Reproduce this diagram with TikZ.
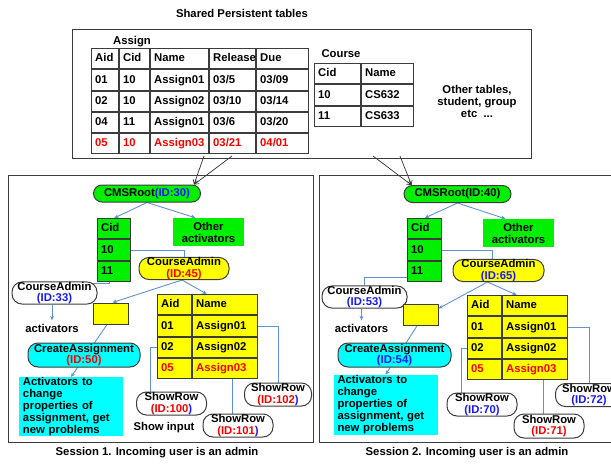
\documentclass[tikz,border=0pt]{standalone}
\usepackage{fontspec}
\setmainfont{Liberation Sans}
\usetikzlibrary{matrix,arrows.meta,backgrounds}

\definecolor{rootgreen}{RGB}{0,240,0}
\definecolor{adminyellow}{RGB}{255,255,0}
\definecolor{actcyan}{RGB}{0,255,255}
\definecolor{linkblue}{RGB}{96,145,215}
\definecolor{idblue}{RGB}{25,25,245}
\definecolor{idred}{RGB}{250,0,0}
\definecolor{edgegray}{RGB}{60,60,60}

\newcommand{\idb}[1]{\textcolor{idblue}{#1}}
\newcommand{\idr}[1]{\textcolor{idred}{#1}}

\begin{document}
\begin{tikzpicture}[x=1pt,y=-1pt,font=\bfseries\fontsize{11.3}{12}\selectfont,
    frame/.style={draw=edgegray,line width=1pt},
    cell/.style={draw=edgegray,line width=1pt,outer sep=0pt,inner xsep=3.5pt,inner ysep=0pt,
        minimum height=20.2pt,text height=8.5pt,text depth=2.5pt,align=left},
    table/.style={matrix of nodes,inner sep=0pt,anchor=north west,nodes={cell}},
    pill/.style={draw=edgegray,line width=1pt,rounded corners=10pt,align=center,inner sep=0pt,
        font=\bfseries\fontsize{11.3}{11.5}\selectfont},
    root node/.style={pill,fill=rootgreen,minimum width=107pt,minimum height=17pt,rounded corners=8.5pt},
    admin node/.style={pill,minimum width=90pt,minimum height=21pt},
    create node/.style={pill,fill=actcyan,minimum width=112pt,minimum height=24pt},
    showrow/.style={pill,fill=white,minimum width=70pt,minimum height=23pt},
    green box/.style={fill=rootgreen,minimum width=71pt,minimum height=28pt,align=center,inner sep=0pt},
    cyan box/.style={fill=actcyan,minimum width=104pt,minimum height=57pt,text width=96pt,align=left,
        inner xsep=4pt,inner ysep=0pt},
    spot/.style={draw=edgegray,line width=1pt,fill=adminyellow,minimum width=35pt,minimum height=21pt,inner sep=0pt},
    link/.style={draw=linkblue,line width=0.9pt},
    linkarrow/.style={link,-{Stealth[length=4.5pt,width=4pt]}},
    feed/.style={draw=black!80,line width=0.7pt,-{Straight Barb[length=4pt,width=5pt]}}]
    \clip (0,0) rectangle (611,466);

    % shared tables
    \node (shtitle) at (242,13) {Shared Persistent tables};
    \draw[frame] (72,29) rectangle (531,158);
    \node (assignlbl) at (132,42) {Assign};
    \matrix[table,row 5/.style={nodes={text=idred}},
        column 1/.style={nodes={text width=20pt}},column 2/.style={nodes={text width=23pt}},
        column 3/.style={nodes={text width=51pt}},column 4/.style={nodes={text width=39pt}},
        column 5/.style={nodes={text width=45pt}}] (assign) at (91,48) {
        Aid & Cid & Name & Release & Due \\
        01 & 10 & Assign01 & 03/5 & 03/09 \\
        02 & 10 & Assign02 & 03/10 & 03/14 \\
        04 & 11 & Assign01 & 03/6 & 03/20 \\
        05 & 10 & Assign03 & 03/21 & 04/01 \\
    };
    \node (courselbl) at (341,54) {Course};
    \matrix[table,column 1/.style={nodes={text width=39pt}},column 2/.style={nodes={text width=45pt}}]
        (course) at (314,63) {
        Cid & Name \\
        10 & CS632 \\
        11 & CS633 \\
    };
    \node[align=center] (othertbl) at (477,101) {Other tables,\\student, group\\etc\ \ ...};
    \coordinate (out1a) at (204,156);
    \coordinate (out1b) at (232,156);
    \coordinate (out2a) at (373,156);
    \coordinate (out2b) at (400,156);

    % session 1
    \draw[frame] (8,175) rectangle (313,442);
    \node (sess1) at (157,453) {Session 1. Incoming user is an admin};
    \node[root node] (root30) at (147,193.5) {CMSRoot\idb{(ID:30)}};
    \matrix[table,nodes={fill=rootgreen},column 1/.style={nodes={text width=26pt}}] (cid1) at (97,218) {
        Cid \\ 10 \\ 11 \\
    };
    \node[green box] (other1) at (208.5,232) {Other\\activators};
    \node[admin node,fill=adminyellow] (admin45) at (184,268.5) {CourseAdmin\\\idr{(ID:45)}};
    \node[admin node,fill=white,minimum width=85pt] (admin33) at (54.5,293) {CourseAdmin\\\idb{(ID:33)}};
    \node[spot] (spot1) at (110.5,313.5) {};
    \matrix[table,nodes={fill=adminyellow},row 4/.style={nodes={text=idred}},
        column 1/.style={nodes={text width=27pt}},column 2/.style={nodes={text width=58pt}}] (aid1) at (157,294) {
        Aid & Name \\
        01 & Assign01 \\
        02 & Assign02 \\
        05 & Assign03 \\
    };
    \node (act1) at (52,328) {activators};
    \node[create node] (create50) at (84,355) {CreateAssignment\\\idr{(ID:50)}};
    \node[cyan box] (cyan1) at (71,406.5) {Activators to\\change\\properties of\\assignment, get\\new problems};
    \node[showrow] (show100) at (171.5,403.5) {ShowRow\\\idr{(ID:100}\idb{)}};
    \node[showrow] (show101) at (238,425.5) {ShowRow\\\idr{(ID:101}\idb{)}};
    \node[showrow,minimum width=67pt] (show102) at (278,394.5) {ShowRow\\\idr{(ID:102}\idb{)}};
    \node (showin) at (164,428) {Show input};

    % session 2
    \draw[frame] (319,175) rectangle (616,442);
    \node (sess2) at (467,453) {Session 2. Incoming user is an admin};
    \node[root node] (root40) at (457.5,194) {CMSRoot(ID:40)};
    \matrix[table,nodes={fill=rootgreen},column 1/.style={nodes={text width=27pt}}] (cid2) at (407,218) {
        Cid \\ 10 \\ 11 \\
    };
    \node[green box] (other2) at (518.5,233) {Other\\activators};
    \node[admin node,fill=adminyellow,minimum width=91pt] (admin65) at (498.5,270.5) {CourseAdmin\\\idb{(ID:65)}};
    \node[admin node,fill=white,minimum width=85pt] (admin53) at (364.5,297) {CourseAdmin\\\idb{(ID:53)}};
    \node[spot] (spot2) at (420.5,314.5) {};
    \matrix[table,nodes={fill=adminyellow},row 4/.style={nodes={text=idred}},
        column 1/.style={nodes={text width=27pt}},column 2/.style={nodes={text width=58pt}}] (aid2) at (467,295) {
        Aid & Name \\
        01 & Assign01 \\
        02 & Assign02 \\
        05 & Assign03 \\
    };
    \node (act2) at (361.5,328) {activators};
    \node[create node,minimum width=113pt] (create54) at (394.5,355) {CreateAssignment\\\idb{(ID:54)}};
    \node[cyan box,minimum width=103pt,minimum height=60pt] (cyan2) at (385.5,405) {Activators to\\change\\properties of\\assignment, get\\new problems};
    \node[showrow] (show70) at (482,404.5) {ShowRow\\\idb{(ID:70)}};
    \node[showrow,minimum height=24pt] (show71) at (549,426) {ShowRow\\\idr{(ID:71)}};
    \node[showrow,minimum width=67pt] (show72) at (589,395) {ShowRow\\\idb{(ID:72)}};

    \begin{scope}[on background layer]
        \draw[feed] (out1a) -- ([xshift=-7pt]root30.north east);
        \draw[feed] (out1b) -- ([xshift=-7pt]root30.north east);
        \draw[feed] (out2a) -- ([xshift=8pt]root40.north west);
        \draw[feed] (out2b) -- ([xshift=8pt]root40.north west);

        \draw[linkarrow] (root30.south) -- (cid1.north);
        \draw[linkarrow] (root30.south) -- ([xshift=-13pt]other1.north);
        \draw[link] (cid1-2-1.east) -| (admin45.north);
        \draw[link] ([xshift=-5pt]cid1-3-1.south) |- ([xshift=-8pt,yshift=-2pt]admin33.north east);
        \draw[linkarrow] ([xshift=-2pt]admin45.south) -- ([xshift=2pt]spot1.north);
        \draw[linkarrow] ([xshift=-2pt]admin45.south) -- ([xshift=-1pt]aid1.north);
        \draw[linkarrow] (admin33.south -| act1.north) -- (act1.north);
        \draw[linkarrow] ([yshift=5pt]spot1.south) -- (cyan1.north);
        \draw[link] (aid1-3-1.west) -- ++(-7,0) coordinate (k100) -- (k100 |- show100.north);
        \draw[link] ([xshift=7.5pt]aid1-4-2.south) coordinate (k101) -- (k101 |- show101.north);
        \draw[link] (aid1-2-2.east) -| (show102.north);

        \draw[linkarrow] (root40.south) -- (cid2.north);
        \draw[linkarrow] (root40.south) -- ([xshift=-13pt]other2.north);
        \draw[link] (cid2-2-1.east) -| ([xshift=-6pt]admin65.north);
        \draw[link] ([yshift=-6pt]cid2-3-1.west) -| (admin53.north);
        \draw[linkarrow] ([xshift=-11pt]admin65.south) -- ([yshift=6pt]spot2.east);
        \draw[linkarrow] ([xshift=-11pt]admin65.south) -- ([xshift=-1pt]aid2.north);
        \draw[linkarrow] (admin53.south -| act2.north) -- (act2.north);
        \draw[linkarrow] ([yshift=5pt]spot2.south) -- (cyan2.north);
        \draw[link] (aid2-3-1.west) -- ++(-6,0) coordinate (k70) -- (k70 |- show70.north);
        \draw[link] ([xshift=8.5pt]aid2-4-2.south) coordinate (k71) -- (k71 |- show71.north);
        \draw[link] (aid2-2-2.east) -| (show72.north);
    \end{scope}
\end{tikzpicture}
\end{document}
